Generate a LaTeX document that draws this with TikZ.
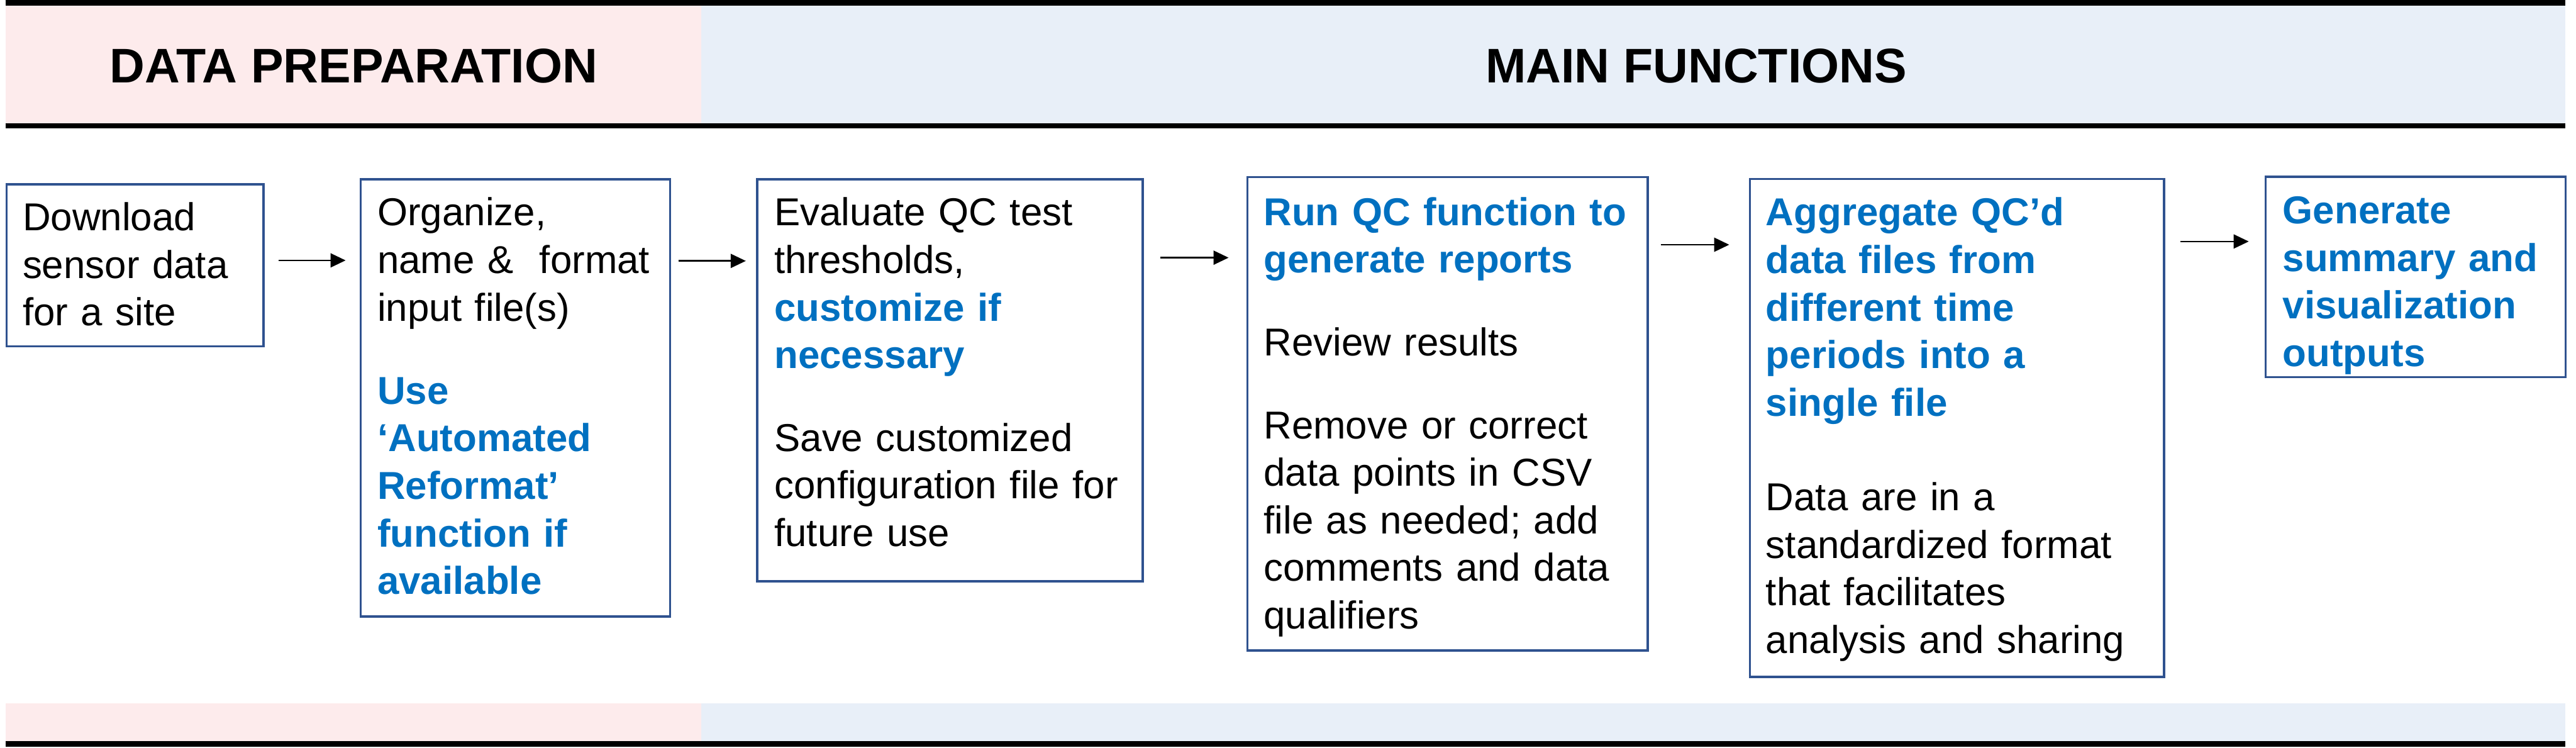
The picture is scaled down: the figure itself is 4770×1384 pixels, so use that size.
\documentclass[tikz,border=0pt]{standalone}
\usepackage{fontspec}
\setmainfont{Liberation Sans}
\usetikzlibrary{arrows.meta}
\definecolor{tblue}{RGB}{0,112,192}
\definecolor{bordc}{RGB}{47,82,143}
\definecolor{pinkb}{RGB}{253,235,236}
\definecolor{blueb}{RGB}{232,239,248}
\newcommand\hl[1]{\textcolor{tblue}{\bfseries #1}}
\begin{document}
\begin{tikzpicture}[x=1pt,y=-1pt,
  box/.style={draw=bordc, line width=4pt, anchor=north west, inner sep=0pt, outer sep=0pt},
  txt/.style={anchor=north west, inner sep=0pt, outer sep=0pt, text width=720pt, align=left, font=\fontsize{72}{88}\selectfont},
  arr/.style={line width=3pt, -{Triangle[length=28pt,width=26pt]}},
  head/.style={inner sep=0pt, font=\fontsize{90}{100}\selectfont\bfseries},
  hrule/.style={line width=10pt}]
\useasboundingbox (0,0) rectangle (4770,1384);
% bands
\fill[pinkb] (10,10) rectangle (1299,233);
\fill[blueb] (1299,10) rectangle (4750,233);
\fill[pinkb] (10,1302) rectangle (1299,1377);
\fill[blueb] (1299,1302) rectangle (4750,1377);
\draw[hrule] (10,5) -- (4750,5);
\draw[hrule] (10,233) -- (4750,233);
\draw[hrule] (10,1377) -- (4750,1377);
\node[head] (h1) at (655,122) {DATA PREPARATION};
\node[head] (h2) at (3141,122) {MAIN FUNCTIONS};
% boxes
\node[box, minimum width=476pt, minimum height=300pt] (b1) at (12,341) {};
\node[box, minimum width=573pt, minimum height=809pt] (b2) at (668,332) {};
\node[box, minimum width=714pt, minimum height=744pt] (b3) at (1402,332) {};
\node[box, minimum width=741pt, minimum height=876pt] (b4) at (2310,328) {};
\node[box, minimum width=767pt, minimum height=922pt] (b5) at (3240,331) {};
\node[box, minimum width=556pt, minimum height=371pt] (b6) at (4195,327) {};
% texts
\node[txt] (t1) at (42,365.4) {\strut Download\\sensor data\\for a site};
\node[txt] (t2) at (699,356.4) {\strut Organize,\\name \& \ format\\input file(s)\\[66pt]\hl{Use}\\\hl{‘Automated}\\\hl{Reformat’}\\\hl{function if}\\\hl{available}};
\node[txt] (t3) at (1434,356.4) {\strut Evaluate QC test\\thresholds,\\\hl{customize if}\\\hl{necessary}\\[65pt]Save customized\\configuration file for\\future use};
\node[txt] (t4) at (2340,355.4) {\strut\hl{Run QC function to}\\\hl{generate reports}\\[66pt]Review results\\[65pt]Remove or correct\\data points in CSV\\file as needed; add\\comments and data\\qualifiers};
\node[txt] (t5) at (3270,356.4) {\strut\hl{Aggregate QC’d}\\\hl{data files from}\\\hl{different time}\\\hl{periods into a}\\\hl{single file}\\[87pt]Data are in a\\standardized format\\that facilitates\\analysis and sharing};
\node[txt] (t6) at (4227,352.4) {\strut\hl{Generate}\\\hl{summary and}\\\hl{visualization}\\\hl{outputs}};
% arrows
\draw[arr, shorten <=28pt, shorten >=28pt] (b1.east |- 0,482) -- (b2.west |- 0,482);
\draw[arr, shorten <=15pt, shorten >=21pt] (b2.east |- 0,483) -- (b3.west |- 0,483);
\draw[arr, shorten <=33pt, shorten >=35pt] (b3.east |- 0,477) -- (b4.west |- 0,477);
\draw[arr, shorten <=24pt, shorten >=38pt] (b4.east |- 0,453) -- (b5.west |- 0,453);
\draw[arr, shorten <=31pt, shorten >=31pt] (b5.east |- 0,447) -- (b6.west |- 0,447);
\end{tikzpicture}
\end{document}
